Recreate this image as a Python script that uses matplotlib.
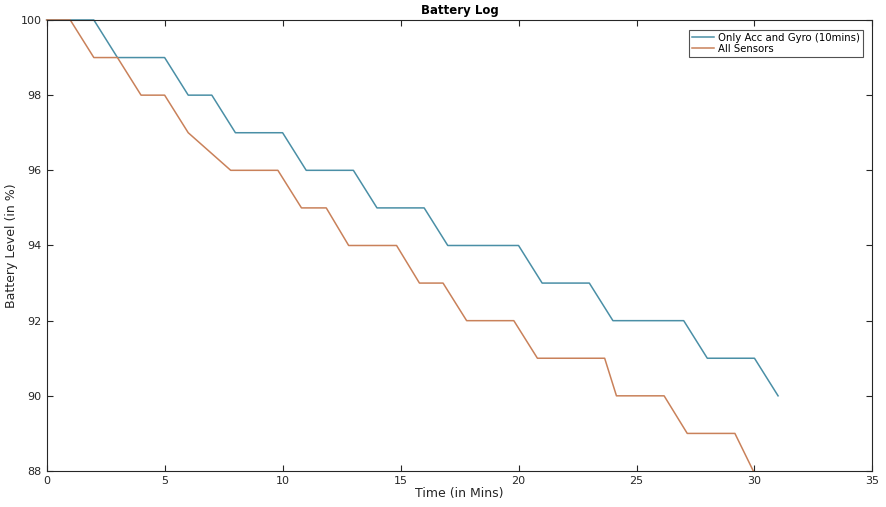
import matplotlib.pyplot as plt
import numpy as np

# Battery readings (time in mins, level in %)
t_gyro = [0, 1, 2, 3, 4, 5, 6, 7, 8, 9, 10, 11, 12, 13, 14, 15, 16,
          17, 18, 19, 20, 21, 22, 23, 24, 25, 26, 27, 28, 29, 30, 31]
lvl_gyro = [100, 100, 100, 99, 99, 99, 98, 98, 97, 97, 97, 96, 96, 96, 95, 95, 95,
            94, 94, 94, 94, 93, 93, 93, 92, 92, 92, 92, 91, 91, 91, 90]

t_all = [0, 1, 2, 3, 4, 5, 6, 7.8, 9.8, 10.8, 11.85, 12.8, 14.83, 15.8, 16.8,
         17.8, 19.8, 20.8, 23.65, 24.15, 26.17, 27.15, 29.17, 29.95]
lvl_all = [100, 100, 99, 99, 98, 98, 97, 96, 96, 95, 95, 94, 94, 93, 93,
           92, 92, 91, 91, 90, 90, 89, 89, 88]

fig = plt.figure(figsize=(8.87, 5.07), dpi=100)
ax = fig.add_axes([0.0526, 0.071, 0.931, 0.8896])

ax.plot(t_gyro, lvl_gyro, color='#4a8fa6', lw=1.1, clip_on=False,
        label='Only Acc and Gyro (10mins)')
ax.plot(t_all, lvl_all, color='#c9815a', lw=1.1, clip_on=False,
        label='All Sensors')

ax.set_xlim(0, 35)
ax.set_ylim(88, 100)
ax.set_xticks(np.arange(0, 36, 5))
ax.set_yticks(np.arange(88, 101, 2))
ax.tick_params(direction='in', top=True, right=True, labelsize=8,
               colors='#262626', length=4)
for s in ax.spines.values():
    s.set_color('#262626')
    s.set_linewidth(0.8)

ax.set_title('Battery Log', fontsize=8.5, fontweight='bold', pad=4)
ax.set_xlabel('Time (in Mins)', fontsize=9, labelpad=1, color='#262626')
ax.set_ylabel('Battery Level (in %)', fontsize=9, labelpad=2, color='#262626')

leg = ax.legend(loc='upper right', bbox_to_anchor=(0.988, 0.978), fontsize=7.3,
                frameon=True, fancybox=False, handlelength=2.2, handletextpad=0.3,
                borderpad=0.3, labelspacing=0.1, edgecolor='#262626',
                borderaxespad=0)
leg.get_frame().set_linewidth(0.8)

fig.savefig('out.png', dpi=100)
